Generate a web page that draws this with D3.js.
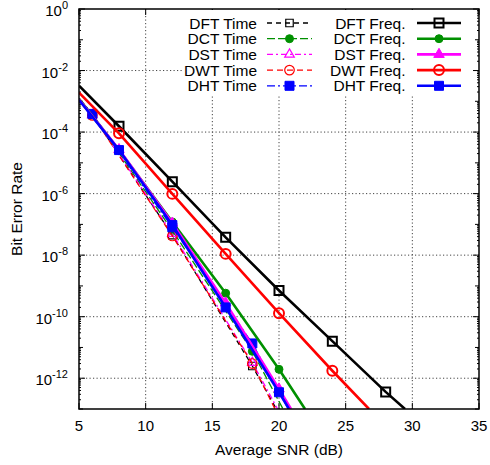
<html>

<head>
    <title>Bit Error Rate vs Average SNR</title>
    <script src="https://d3js.org/d3.v7.min.js"></script>
    <style>
        body { margin: 0; background: #fff; }
        text { font-family: "Liberation Sans", Arial, Helvetica, sans-serif; fill: #000; }
    </style>
</head>

<body>
    <div id="chart"></div>
    <script type="text/javascript">
    // tick values
    var xTicks = [5, 10, 15, 20, 25, 30, 35];
    var yLabelExps = [0, -2, -4, -6, -8, -10, -12];

    // SNR values where the symbols sit
    var timeMarkSnr = [6, 12, 18];
    var freqMarkSnr = [8, 12, 16, 20, 24, 28];

    // time domain curves
    var dftTimeSnr = [5, 6, 12, 18, 19.8];
    var dftTimeBer = [1.1e-3, 3.6e-4, 4.5e-8, 2.5e-12, 1e-13];
    var dctTimeSnr = [5, 6, 12, 18, 20.3];
    var dctTimeBer = [1.2e-3, 3.8e-4, 6.3e-8, 7.5e-12, 1e-13];
    var dstTimeSnr = [5, 6, 12, 18, 19.9];
    var dstTimeBer = [1.1e-3, 3.6e-4, 5e-8, 3.2e-12, 1e-13];
    var dwtTimeSnr = [5, 6, 12, 18, 19.7];
    var dwtTimeBer = [1.1e-3, 3.5e-4, 4.2e-8, 3.0e-12, 1e-13];
    var dhtTimeSnr = [5, 6, 12, 18, 20.7];
    var dhtTimeBer = [1.25e-3, 3.9e-4, 8e-8, 1.35e-11, 1e-13];

    // frequency domain curves
    var dftFreqSnr = [5, 8, 12, 16, 20, 24, 28, 29.45];
    var dftFreqBer = [3.2e-3, 1.55e-4, 2.45e-6, 3.8e-8, 7.1e-10, 1.6e-11, 3.6e-13, 1e-13];
    var dctFreqSnr = [5, 8, 12, 16, 20, 21.95];
    var dctFreqBer = [1.2e-3, 2.6e-5, 1.2e-7, 5.8e-10, 1.95e-12, 1e-13];
    var dstFreqSnr = [5, 8, 12, 16, 20, 20.9];
    var dstFreqBer = [1.15e-3, 2.7e-5, 1.1e-7, 2.8e-10, 4.5e-13, 1e-13];
    var dwtFreqSnr = [5, 8, 12, 16, 20, 24, 26.75];
    var dwtFreqBer = [1.9e-3, 9.1e-5, 9.8e-7, 1.1e-8, 1.3e-10, 1.75e-12, 1e-13];
    var dhtFreqSnr = [5, 8, 12, 16, 20, 20.75];
    var dhtFreqBer = [1.1e-3, 2.6e-5, 9.5e-8, 2.0e-10, 3.5e-13, 1e-13];

    var green = "#009000";

    var series = [
        { name: "DFT Time", snr: dftTimeSnr, ber: dftTimeBer, marks: timeMarkSnr, color: "#000", width: 1.3, dash: "5,4", sym: d3.symbolSquare, size: 56, fill: false, sw: 1.2 },
        { name: "DCT Time", snr: dctTimeSnr, ber: dctTimeBer, marks: timeMarkSnr, color: green, width: 1.3, dash: "8,3", sym: d3.symbolCircle, size: 50, fill: true, sw: 1 },
        { name: "DST Time", snr: dstTimeSnr, ber: dstTimeBer, marks: timeMarkSnr, color: "#f0f", width: 1.3, dash: "6,3,2,3", sym: d3.symbolTriangle, size: 40, fill: false, sw: 1.2 },
        { name: "DWT Time", snr: dwtTimeSnr, ber: dwtTimeBer, marks: timeMarkSnr, color: "#f00", width: 1.3, dash: "6,4", sym: d3.symbolCircle, size: 72, fill: false, sw: 1.2 },
        { name: "DHT Time", snr: dhtTimeSnr, ber: dhtTimeBer, marks: timeMarkSnr, color: "#00f", width: 1.3, dash: "8,3,2,3", sym: d3.symbolSquare, size: 81, fill: true, sw: 1 },
        { name: "DFT Freq.", snr: dftFreqSnr, ber: dftFreqBer, marks: freqMarkSnr, color: "#000", width: 2.6, dash: null, sym: d3.symbolSquare, size: 81, fill: false, sw: 2 },
        { name: "DCT Freq.", snr: dctFreqSnr, ber: dctFreqBer, marks: freqMarkSnr, color: green, width: 2.6, dash: null, sym: d3.symbolCircle, size: 50, fill: true, sw: 1 },
        { name: "DST Freq.", snr: dstFreqSnr, ber: dstFreqBer, marks: freqMarkSnr, color: "#f0f", width: 2.6, dash: null, sym: d3.symbolTriangle, size: 48, fill: true, sw: 1 },
        { name: "DWT Freq.", snr: dwtFreqSnr, ber: dwtFreqBer, marks: freqMarkSnr, color: "#f00", width: 2.6, dash: null, sym: d3.symbolCircle, size: 78, fill: false, sw: 2 },
        { name: "DHT Freq.", snr: dhtFreqSnr, ber: dhtFreqBer, marks: freqMarkSnr, color: "#00f", width: 2.6, dash: null, sym: d3.symbolSquare, size: 81, fill: true, sw: 1 }
    ];

    var margin = { top: 9, right: 11, bottom: 56, left: 79 },
        width = 490 - margin.left - margin.right,
        height = 465 - margin.top - margin.bottom;

    var xScale = d3.scaleLinear().domain([5, 35]).range([0, width]);
    var yScale = d3.scaleLog().domain([1e-13, 1]).range([height, 0]);

    var svg = d3.select("#chart").append("svg")
        .attr("width", 490)
        .attr("height", 465)
        .append("g")
        .attr("transform", "translate(" + margin.left + "," + margin.top + ")");

    svg.append("clipPath").attr("id", "plotClip")
        .append("rect").attr("width", width).attr("height", height);

    // grid
    var grid = svg.append("g").attr("stroke", "#444").attr("stroke-width", 1).attr("stroke-dasharray", "1.2,2.3");
    xTicks.slice(1, -1).forEach(function(v) {
        grid.append("line").attr("x1", xScale(v)).attr("x2", xScale(v)).attr("y1", 0).attr("y2", height);
    });
    yLabelExps.slice(1).forEach(function(e) {
        grid.append("line").attr("x1", 0).attr("x2", width).attr("y1", yScale(Math.pow(10, e))).attr("y2", yScale(Math.pow(10, e)));
    });

    // tick marks on all four sides
    var ticks = svg.append("g").attr("stroke", "#000").attr("stroke-width", 1);
    xTicks.forEach(function(v) {
        ticks.append("line").attr("x1", xScale(v)).attr("x2", xScale(v)).attr("y1", height).attr("y2", height - 6);
        ticks.append("line").attr("x1", xScale(v)).attr("x2", xScale(v)).attr("y1", 0).attr("y2", 6);
    });
    for (var e = -13; e <= 0; e++) {
        var len = (e % 2 == 0) ? 6 : 4;
        var ty = yScale(Math.pow(10, e));
        ticks.append("line").attr("x1", 0).attr("x2", len).attr("y1", ty).attr("y2", ty);
        ticks.append("line").attr("x1", width).attr("x2", width - len).attr("y1", ty).attr("y2", ty);
        if (e < 0) {
            for (var m = 2; m <= 9; m++) {
                var my = yScale(m * Math.pow(10, e));
                ticks.append("line").attr("x1", 0).attr("x2", 2).attr("y1", my).attr("y2", my);
                ticks.append("line").attr("x1", width).attr("x2", width - 2).attr("y1", my).attr("y2", my);
            }
        }
    }

    // curves
    var line = d3.line()
        .x(function(d) { return xScale(d[0]); })
        .y(function(d) { return yScale(d[1]); });

    var plot = svg.append("g").attr("clip-path", "url(#plotClip)");

    series.forEach(function(s) {
        var pts = s.snr.map(function(v, i) { return [v, s.ber[i]]; });
        plot.append("path")
            .attr("d", line(pts))
            .attr("fill", "none")
            .attr("stroke", s.color)
            .attr("stroke-width", s.width)
            .attr("stroke-dasharray", s.dash)
            .attr("stroke-linejoin", "round");
        plot.selectAll(null)
            .data(pts.filter(function(d) { return s.marks.indexOf(d[0]) >= 0; }))
            .enter()
            .append("path")
            .attr("d", d3.symbol().type(s.sym).size(s.size))
            .attr("transform", function(d) { return "translate(" + xScale(d[0]) + "," + yScale(d[1]) + ")"; })
            .attr("fill", s.fill ? s.color : "none")
            .attr("stroke", s.color)
            .attr("stroke-width", s.sw);
    });

    // legend (white box over the grid)
    var legend = svg.append("g");
    legend.append("rect")
        .attr("x", 104).attr("y", 1).attr("width", 290).attr("height", 86)
        .attr("fill", "#fff");

    series.forEach(function(s, i) {
        var col = Math.floor(i / 5), row = i % 5;
        var ly = 14 + row * 15.7;
        var textX = col == 0 ? 178 : 326.5;
        var x0 = col == 0 ? 188 : 338, x1 = col == 0 ? 233 : 382;
        legend.append("text")
            .attr("x", textX).attr("y", ly + 5.5)
            .attr("text-anchor", "end")
            .style("font-size", "15.5px")
            .text(s.name);
        legend.append("line")
            .attr("x1", x0).attr("x2", x1).attr("y1", ly).attr("y2", ly)
            .attr("stroke", s.color)
            .attr("stroke-width", s.width)
            .attr("stroke-dasharray", s.dash);
        legend.append("path")
            .attr("d", d3.symbol().type(s.sym).size(s.size))
            .attr("transform", "translate(" + (x0 + x1) / 2 + "," + ly + ")")
            .attr("fill", s.fill ? s.color : "none")
            .attr("stroke", s.color)
            .attr("stroke-width", s.sw);
    });

    // frame
    svg.append("rect")
        .attr("width", width).attr("height", height)
        .attr("fill", "none").attr("stroke", "#000").attr("stroke-width", 1.5);

    // tick labels
    xTicks.forEach(function(v) {
        svg.append("text")
            .attr("x", xScale(v)).attr("y", height + 22)
            .attr("text-anchor", "middle")
            .style("font-size", "15px")
            .text(v);
    });
    yLabelExps.forEach(function(e) {
        var t = svg.append("text")
            .attr("x", -11).attr("y", yScale(Math.pow(10, e)) + 7)
            .attr("text-anchor", "end")
            .style("font-size", "15px");
        t.append("tspan").text("10");
        t.append("tspan").attr("dy", -7).style("font-size", "11px").text(e);
    });

    // axis titles
    svg.append("text")
        .attr("x", width / 2).attr("y", height + 46)
        .attr("text-anchor", "middle")
        .style("font-size", "15.5px")
        .text("Average SNR (dB)");
    svg.append("text")
        .attr("transform", "translate(-57," + height / 2 + ") rotate(-90)")
        .attr("text-anchor", "middle")
        .style("font-size", "15.5px")
        .text("Bit Error Rate");
    </script>
</body>

</html>
